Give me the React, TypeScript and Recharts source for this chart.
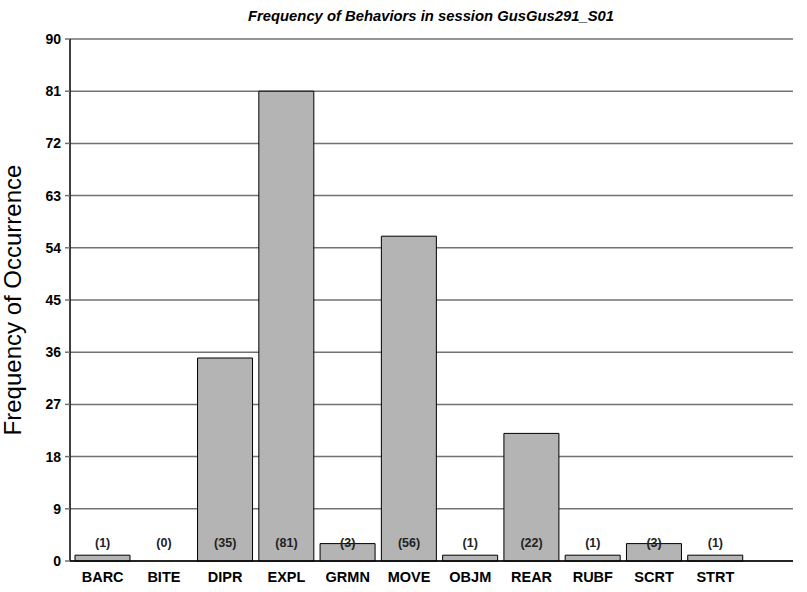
import { BarChart, Bar, XAxis, YAxis, CartesianGrid } from 'recharts'

document.body.style.margin = '0'

const behaviors = ['BARC', 'BITE', 'DIPR', 'EXPL', 'GRMN', 'MOVE', 'OBJM', 'REAR', 'RUBF', 'SCRT', 'STRT']
const counts = [1, 0, 35, 81, 3, 56, 1, 22, 1, 3, 1]
const yTicks = [0, 9, 18, 27, 36, 45, 54, 63, 72, 81, 90]

const data = behaviors.map((b, i) => ({ behavior: b, count: counts[i] }))

const FONT = '"Liberation Sans", Arial, sans-serif'

// category name under the axis, count "(n)" just above it
function BehaviorTick(props: any) {
  const { x, y, payload, index } = props
  return (
    <g>
      <text
        x={x}
        y={y - 14}
        textAnchor="middle"
        fontFamily={FONT}
        fontSize={12.5}
        fontWeight="bold"
        fill="#222"
      >
        ({counts[index]})
      </text>
      <text
        x={x}
        y={y + 21}
        textAnchor="middle"
        fontFamily={FONT}
        fontSize={14.5}
        fontWeight="bold"
        fill="#000"
      >
        {payload.value}
      </text>
    </g>
  )
}

function YTitle(props: any) {
  const { viewBox } = props
  const cy = viewBox.y + viewBox.height / 2
  return (
    <text
      x={21}
      y={cy}
      transform={`rotate(-90, 21, ${cy})`}
      textAnchor="middle"
      fontFamily={FONT}
      fontSize={24}
      fill="#000"
    >
      Frequency of Occurrence
    </text>
  )
}

export default function App() {
  return (
    <div style={{ width: 807, height: 592, background: '#fff', position: 'relative' }}>
      <BarChart
        width={807}
        height={592}
        data={data}
        margin={{ top: 39, right: 14, left: 0, bottom: 0 }}
        barCategoryGap={3}
      >
        <text
          x={431}
          y={21}
          textAnchor="middle"
          fontFamily={FONT}
          fontSize={14.8}
          fontWeight="bold"
          fontStyle="italic"
          fill="#000"
        >
          Frequency of Behaviors in session GusGus291_S01
        </text>
        <CartesianGrid vertical={false} stroke="#727272" strokeWidth={1.5} />
        <YAxis
          domain={[0, 90]}
          ticks={yTicks}
          width={70}
          interval={0}
          axisLine={{ stroke: '#000', strokeWidth: 1.5 }}
          tickLine={{ stroke: '#727272', strokeWidth: 1.5 }}
          tickSize={5}
          tickMargin={4}
          tick={{ fontFamily: FONT, fontSize: 14, fontWeight: 'bold', fill: '#000' }}
          label={<YTitle />}
        />
        <YAxis
          yAxisId="right"
          orientation="right"
          width={0}
          domain={[0, 90]}
          tick={false}
          tickLine={false}
          axisLine={{ stroke: '#000', strokeWidth: 1.5 }}
        />
        <Bar dataKey="count" fill="#b4b4b4" stroke="#000" strokeWidth={1} isAnimationActive={false} />
        <XAxis
          dataKey="behavior"
          height={31}
          padding={{ left: 2, right: 47 }}
          axisLine={{ stroke: '#000', strokeWidth: 1.5 }}
          tickLine={false}
          tickSize={0}
          tickMargin={0}
          tick={<BehaviorTick />}
          interval={0}
        />
      </BarChart>
    </div>
  )
}
